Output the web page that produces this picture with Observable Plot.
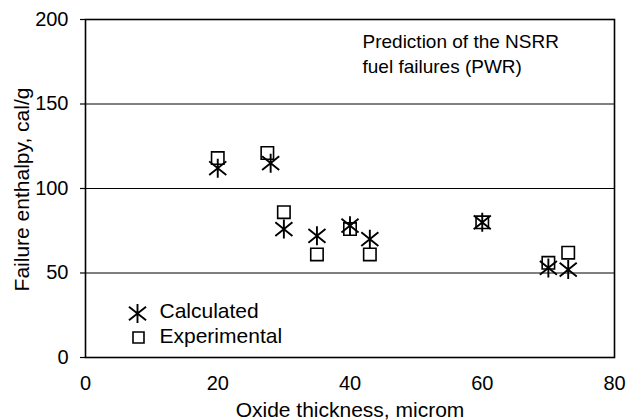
<!DOCTYPE html>
<html>
<head>
<meta charset="utf-8">
<script src="https://cdn.jsdelivr.net/npm/d3@7"></script>
<script src="https://cdn.jsdelivr.net/npm/@observablehq/plot@0.6"></script>
<style>
  html, body { margin: 0; padding: 0; background: white; }
</style>
</head>
<body>
<div id="chart"></div>
<script>
// ---- Data ----
const xTicks = [0, 20, 40, 60, 80];
const yTicks = [0, 50, 100, 150, 200];
const gridValues = [50, 100, 150];

const calcX = [20, 28, 30, 35, 40, 43, 60, 70, 73];
const calcY = [112, 115, 76, 72, 78, 70, 80, 53, 52];

const expX = [20, 27.5, 30, 35, 40, 43, 60, 70, 73];
const expY = [118, 121, 86, 61, 76, 61, 80, 56, 62];

const legendLabels = ["Calculated", "Experimental"];
const annotation = "Prediction of the NSRR\nfuel failures (PWR)";
const xLabel = "Oxide thickness, microm";
const yLabel = "Failure enthalpy, cal/g";

const calculated = calcX.map((x, i) => ({x, y: calcY[i]}));
const experimental = expX.map((x, i) => ({x, y: expY[i]}));

// Excel-style star marker: vertical line plus an X
const star = {
  draw(ctx, size) {
    const r = Math.sqrt(size / Math.PI);
    const d = r * 0.9;
    ctx.moveTo(0, -r); ctx.lineTo(0, r);
    ctx.moveTo(-d, -d * 0.8); ctx.lineTo(d, d * 0.8);
    ctx.moveTo(-d, d * 0.8); ctx.lineTo(d, -d * 0.8);
  }
};

const font = "'Liberation Sans', Arial, Helvetica, sans-serif";

const chart = Plot.plot({
  width: 636,
  height: 420,
  marginLeft: 85,
  marginRight: 22,
  marginTop: 19,
  marginBottom: 63,
  style: {fontFamily: font, fontSize: "20px", background: "white", color: "black"},
  x: {domain: [0, 80]},
  y: {domain: [0, 200]},
  marks: [
    Plot.ruleY(gridValues, {stroke: "black", strokeWidth: 1}),
    Plot.frame({stroke: "black", strokeWidth: 1.6}),
    Plot.axisX({ticks: xTicks, tickSize: 0, tickPadding: 18, label: null, fontSize: 20}),
    Plot.axisY({ticks: yTicks, tickSize: 5, tickPadding: 12, label: null, fontSize: 20, strokeWidth: 1.2}),
    Plot.dot(experimental, {x: "x", y: "y", symbol: "square", r: 7, fill: "none", stroke: "black", strokeWidth: 1.6}),
    Plot.dot(calculated, {x: "x", y: "y", symbol: star, r: 9.5, fill: "none", stroke: "black", strokeWidth: 1.9}),
    // Legend inside the frame, bottom-left
    Plot.dot([legendLabels[0]], {frameAnchor: "bottom-left", dx: 52, dy: -44, symbol: star, r: 9.5, fill: "none", stroke: "black", strokeWidth: 1.9}),
    Plot.dot([legendLabels[1]], {frameAnchor: "bottom-left", dx: 53, dy: -20, symbol: "square", r: 6.2, fill: "none", stroke: "black", strokeWidth: 1.6}),
    Plot.text([legendLabels[0]], {text: d => d, frameAnchor: "bottom-left", dx: 74, dy: -46, textAnchor: "start", lineAnchor: "middle", fontSize: 21}),
    Plot.text([legendLabels[1]], {text: d => d, frameAnchor: "bottom-left", dx: 74, dy: -21, textAnchor: "start", lineAnchor: "middle", fontSize: 21}),
    // Annotation, top right
    Plot.text([annotation], {text: d => d, frameAnchor: "top-left", dx: 277, dy: 10.5, textAnchor: "start", lineAnchor: "top", lineHeight: 1.32, fontSize: 19}),
    // Axis titles
    Plot.text([xLabel], {text: d => d, frameAnchor: "bottom", dy: 53, textAnchor: "middle", lineAnchor: "middle", fontSize: 21}),
    Plot.text([yLabel], {text: d => d, frameAnchor: "left", dx: -63, dy: 1, rotate: -90, textAnchor: "middle", lineAnchor: "middle", fontSize: 21})
  ]
});

document.getElementById("chart").appendChild(chart);
</script>
</body>
</html>
